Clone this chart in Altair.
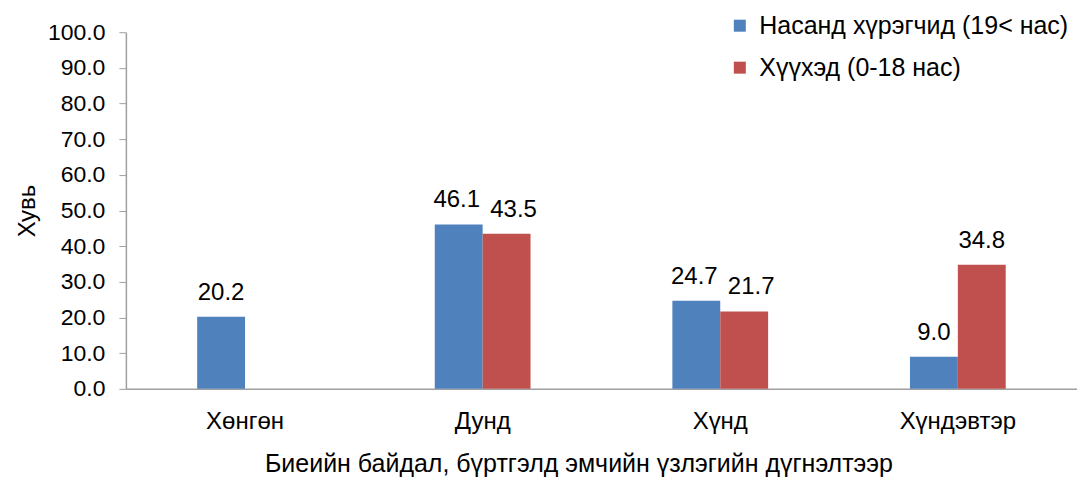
import altair as alt
import pandas as pd

categories = ["Хөнгөн", "Дунд", "Хүнд", "Хүндэвтэр"]
series_names = ["Насанд хүрэгчид (19< нас)", "Хүүхэд (0-18 нас)"]
adults = [20.2, 46.1, 24.7, 9.0]
children = [None, 43.5, 21.7, 34.8]
colors = ["#4F81BD", "#C0504D"]
# categories where the two value labels are nudged apart (as in the original)
nudged = ["Дунд", "Хүнд"]

rows = []
for i, c in enumerate(categories):
    for s, vals in zip(series_names, [adults, children]):
        if vals[i] is not None:
            rows.append({"cat": c, "series": s, "value": vals[i]})
df = pd.DataFrame(rows)

FONT = "Liberation Sans"

x = alt.X("cat:N", sort=categories,
          scale=alt.Scale(paddingInner=0.597, paddingOuter=0.30),
          axis=alt.Axis(title="Биеийн байдал, бүртгэлд эмчийн үзлэгийн дүгнэлтээр",
                        labelAngle=0, labelPadding=21, titlePadding=18, ticks=False,
                        labelFontSize=24, titleFontSize=25, titleX=453,
                        titleAlign="center"))
xo = alt.XOffset("series:N", sort=series_names,
                 scale=alt.Scale(domain=series_names, paddingInner=0, paddingOuter=0))
y = alt.Y("value:Q", scale=alt.Scale(domain=[0, 100]),
          axis=alt.Axis(title="Хувь", values=list(range(0, 101, 10)), format=".1f",
                        grid=False, tickSize=7, labelPadding=14, titlePadding=8,
                        labelOverlap=False, labelFontSize=23, titleFontSize=24))

base = alt.Chart(df)

bars = base.mark_bar().encode(
    x=x,
    xOffset=xo,
    y=y,
    color=alt.Color("series:N", sort=series_names,
                    scale=alt.Scale(domain=series_names, range=colors),
                    legend=alt.Legend(title=None, orient="none", legendX=602, legendY=-19,
                                      symbolType="square", symbolSize=144,
                                      symbolStrokeWidth=0, labelFontSize=25,
                                      labelColor="#000000", rowPadding=16,
                                      labelOffset=7, labelLimit=600)),
)


def text_layer(flt, dx):
    return base.transform_filter(flt).mark_text(
        baseline="alphabetic", dy=-17, dx=dx, fontSize=24, font=FONT, color="#000000"
    ).encode(x=x, xOffset=xo, y=y, text=alt.Text("value:Q", format=".1f"))


in_nudged = alt.FieldOneOfPredicate(field="cat", oneOf=nudged)
is_adult = alt.FieldEqualPredicate(field="series", equal=series_names[0])
is_child = alt.FieldEqualPredicate(field="series", equal=series_names[1])

t_plain = text_layer(alt.LogicalNotPredicate(**{"not": in_nudged}), 0)
t_left = text_layer(alt.LogicalAndPredicate(**{"and": [in_nudged, is_adult]}), -2)
t_right = text_layer(alt.LogicalAndPredicate(**{"and": [in_nudged, is_child]}), 7)

chart = alt.layer(bars, t_plain, t_left, t_right).properties(
    width=952, height=357,
    autosize=alt.AutoSizeParams(type="none"),
    padding={"left": 118, "top": 24, "right": 0, "bottom": 92},
).configure(font=FONT).configure_view(stroke=None).configure_axis(
    labelColor="#000000", titleColor="#000000",
    titleFontWeight="normal", domainColor="#A0A0A0", domainWidth=1.5,
    tickColor="#A0A0A0", labelFont=FONT, titleFont=FONT,
).configure_legend(labelFont=FONT)

chart.save("out.html", embed_options={"renderer": "svg", "actions": False})
